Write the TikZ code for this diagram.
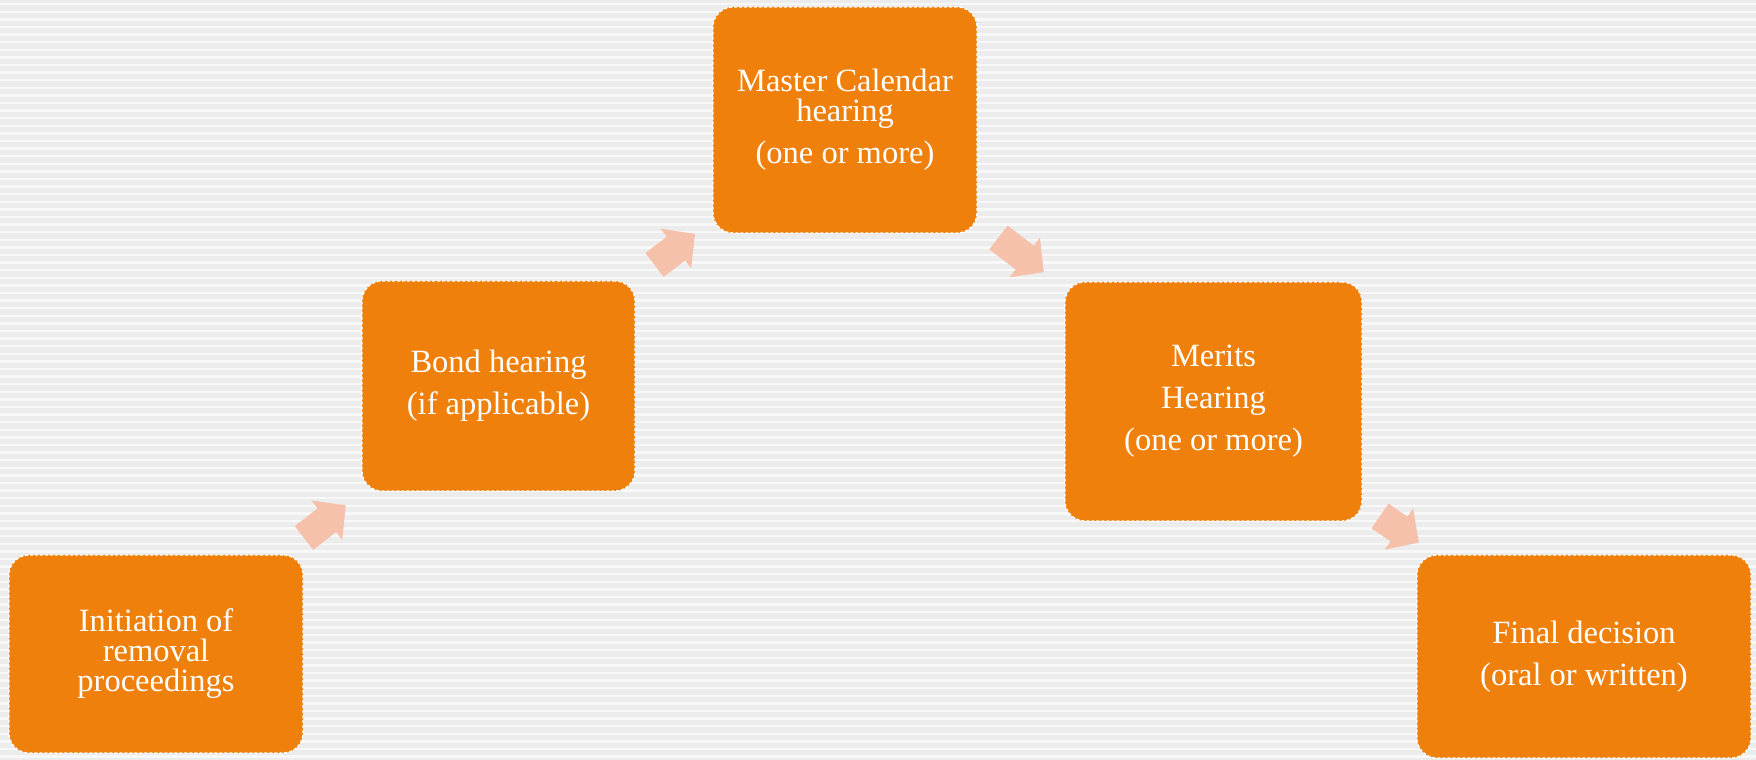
\documentclass[tikz,border=0pt]{standalone}
\usepackage{fontspec}
\setmainfont{Liberation Serif}
\definecolor{boxorange}{HTML}{EF800B}
\definecolor{arrowpink}{HTML}{F6C1AB}
\definecolor{bgbase}{HTML}{ECECEC}
\definecolor{bgline}{HTML}{F8F8F8}
\tikzset{
  stepbox/.style={rounded corners=20pt, fill=boxorange, draw=white, line width=1.3pt,
    dash pattern=on 3pt off 2pt, text=white, align=center, inner sep=0pt,
    font=\fontsize{32.5}{30}\selectfont},
  blockarrow/.style={fill=arrowpink, draw=none}
}
\newcommand{\barrow}[4]{% tail x, tail y, angle, length
  \fill[blockarrow, shift={(#1,#2)}, rotate=#3]
    (0,-15) -- ({#4-24},-15) -- ({#4-24},-25) -- (#4,0) -- ({#4-24},25) -- ({#4-24},15) -- (0,15) -- cycle;}
\begin{document}
\begin{tikzpicture}[x=1pt,y=1pt]
\useasboundingbox (0,0) rectangle (1756,760);
\fill[bgbase] (0,0) rectangle (1756,760);
\foreach \k in {0,...,100} {
  \fill[bgline] (0,{760-3-\k*7.6}) rectangle (1756,{760-5.5-\k*7.6});
}
\node[stepbox, minimum width=294pt, minimum height=198pt] (init) at (156,106)
  {Initiation of\\removal\\proceedings};
\node[stepbox, minimum width=273pt, minimum height=210pt] (bond) at (498.5,374)
  {Bond hearing\\[12pt](if applicable)};
\node[stepbox, minimum width=264pt, minimum height=226pt] (master) at (845,640)
  {Master Calendar\\hearing\\[12pt](one or more)};
\node[stepbox, minimum width=297pt, minimum height=239pt] (merits) at (1213.5,358.5)
  {Merits\\[12pt]Hearing\\[12pt](one or more)};
\node[stepbox, minimum width=334pt, minimum height=203pt] (final) at (1584,103.5)
  {Final decision\\[12pt](oral or written)};
\barrow{304}{222}{38}{53}
\barrow{654.5}{495}{37.5}{51}
\barrow{998.5}{522.5}{-37.4}{57}
\barrow{1380}{244}{-34.4}{47}
\end{tikzpicture}
\end{document}
